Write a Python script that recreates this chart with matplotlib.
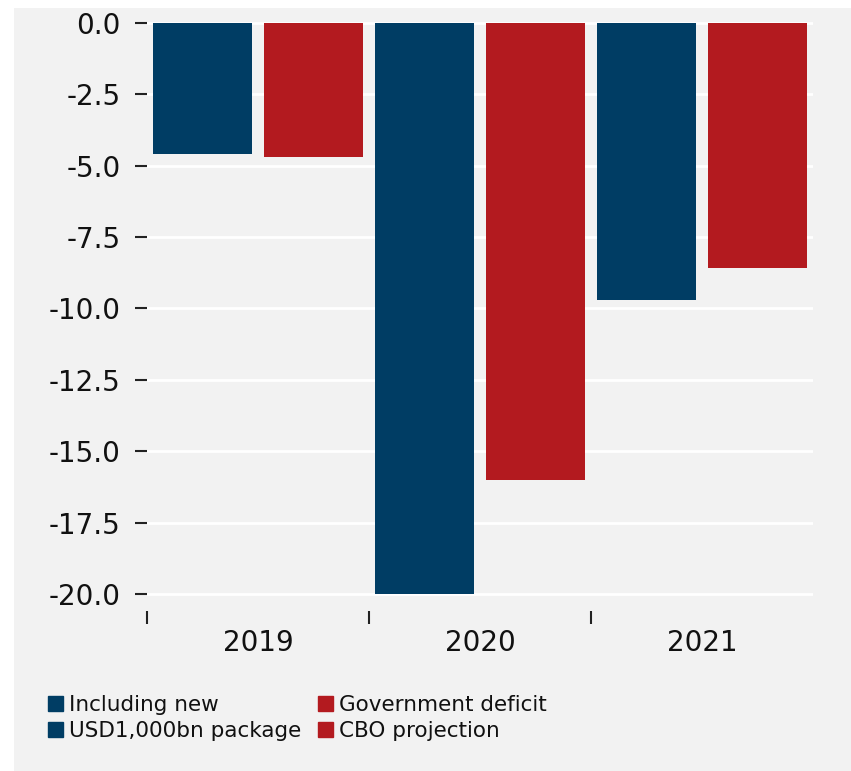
import matplotlib
matplotlib.use("Agg")
import matplotlib.pyplot as plt
import numpy as np
from matplotlib.patches import Patch, Rectangle
from matplotlib.ticker import FixedLocator, FormatStrFormatter

BLUE = "#003d64"
RED = "#b31a1f"
PANEL = "#f2f2f2"

years = ["2019", "2020", "2021"]
with_package = [-4.6, -20.0, -9.7]   # incl. new USD1,000bn package
cbo_projection = [-4.7, -16.0, -8.6]  # government deficit, CBO projection
y_ticks = [0.0, -2.5, -5.0, -7.5, -10.0, -12.5, -15.0, -17.5, -20.0]

fig = plt.figure(figsize=(8.51, 7.71), dpi=100)
fig.patch.set_facecolor("white")
fig.patches.append(Rectangle((14 / 851, 0), 1, 1 - 8 / 771,
                             transform=fig.transFigure, facecolor=PANEL,
                             edgecolor="none", zorder=-10))

ax = fig.add_axes([147 / 851, 1 - 611 / 771, 666 / 851, 599.5 / 771])
ax.set_facecolor(PANEL)

x = np.arange(len(years))
ax.bar(x - 0.25, with_package, width=0.45, color=BLUE, zorder=3)
ax.bar(x + 0.25, cbo_projection, width=0.45, color=RED, zorder=3)

ax.set_xlim(-0.5, 2.5)
ax.set_ylim(-20.6, 0.4)

ax.yaxis.set_major_locator(FixedLocator(y_ticks))
ax.yaxis.set_major_formatter(FormatStrFormatter("%.1f"))
ax.grid(axis="y", color="white", linewidth=2, zorder=0)
ax.set_axisbelow(True)

ax.set_xticks(x)
ax.set_xticklabels(years)
ax.xaxis.set_minor_locator(FixedLocator([-0.5, 0.5, 1.5]))
ax.tick_params(axis="x", which="major", length=0, pad=13, labelsize=20,
               labelcolor="#111111")
ax.tick_params(axis="x", which="minor", length=9, width=1.5, color="#222222",
               direction="out", pad=0)
ax.tick_params(axis="y", length=9, width=1.5, color="#222222", pad=10,
               labelsize=20, labelcolor="#111111")

for s in ax.spines.values():
    s.set_visible(False)

handles = [Patch(color=BLUE), Patch(color=BLUE), Patch(color=RED), Patch(color=RED)]
labels = ["Including new", "USD1,000bn package", "Government deficit", "CBO projection"]
leg = fig.legend(handles, labels, ncol=2, loc="upper left",
                 bbox_to_anchor=(37 / 851, 1 - 684 / 771), frameon=False,
                 fontsize=15.5, handlelength=0.7, handleheight=0.7,
                 handletextpad=0.3, labelspacing=0.27, columnspacing=0.75,
                 borderpad=0)
for t in leg.get_texts():
    t.set_color("#111111")

fig.savefig("out.png", dpi=100, facecolor=fig.get_facecolor())
